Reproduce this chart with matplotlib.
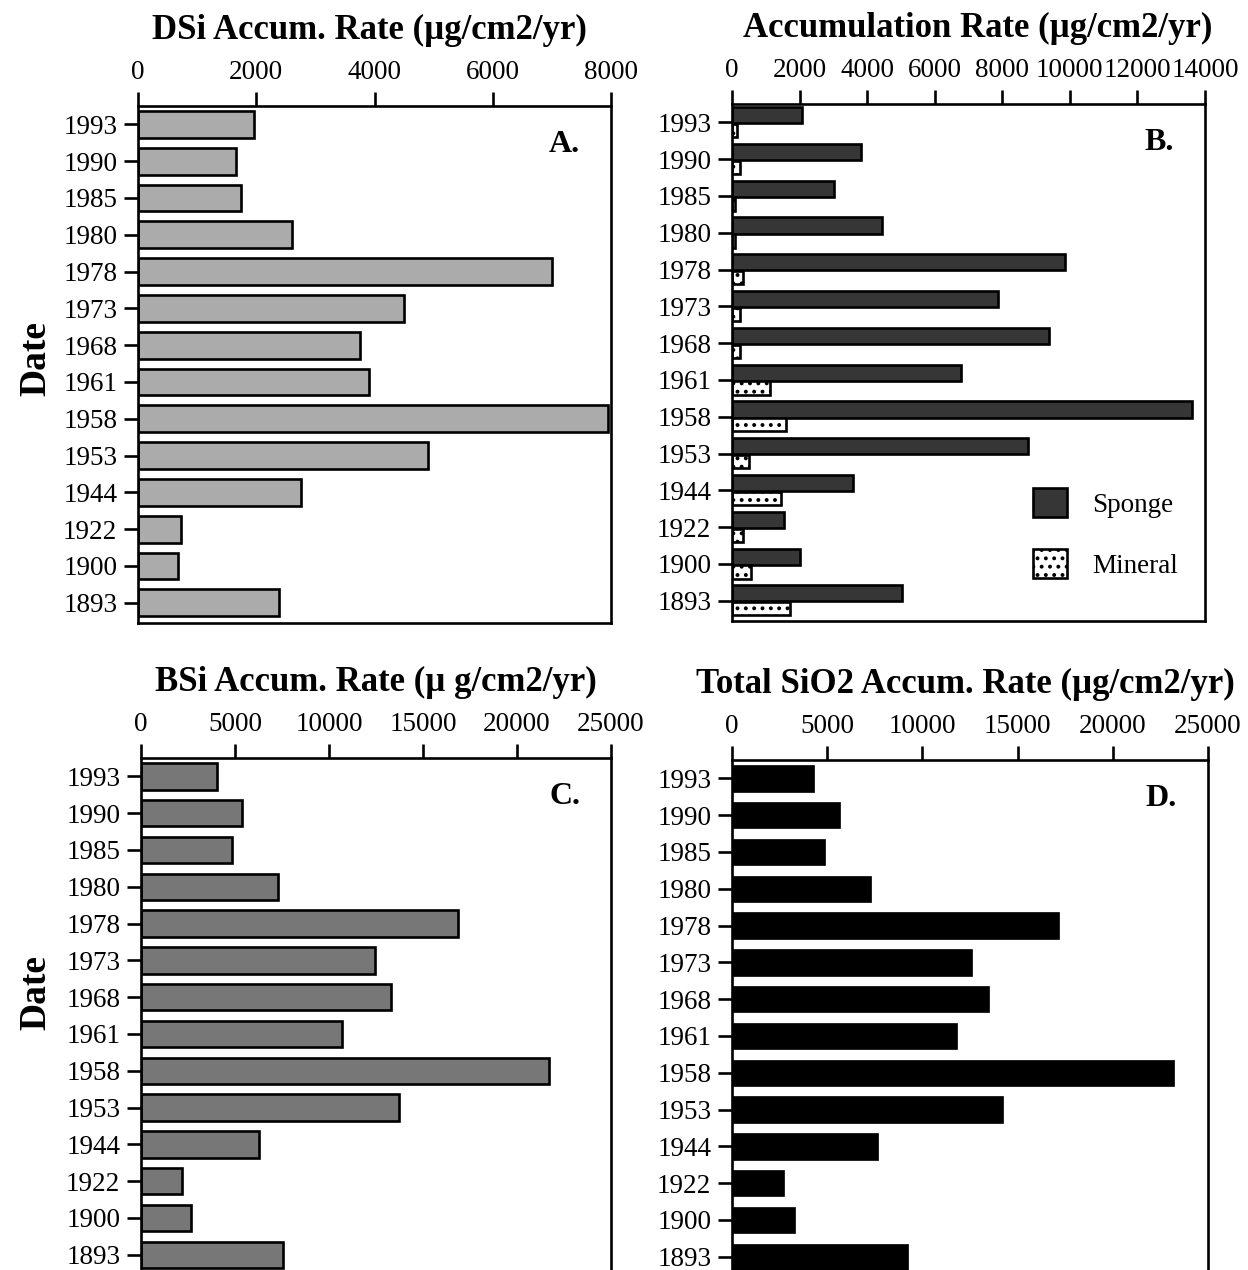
import matplotlib
matplotlib.use('Agg')
import matplotlib.pyplot as plt
import numpy as np
from matplotlib.patches import Patch

plt.rcParams['font.family'] = ['Liberation Serif', 'DejaVu Serif']
plt.rcParams['hatch.linewidth'] = 1.6

dates = ['1993', '1990', '1985', '1980', '1978', '1973', '1968',
         '1961', '1958', '1953', '1944', '1922', '1900', '1893']
dsi = [1970, 1650, 1740, 2610, 7000, 4500, 3760, 3900, 7950, 4900, 2750, 730, 680, 2390]
sponge = [2070, 3820, 3020, 4450, 9870, 7870, 9380, 6770, 13610, 8750, 3580, 1530, 2010, 5020]
mineral = [150, 240, 80, 80, 320, 240, 240, 1120, 1600, 490, 1440, 340, 570, 1730]
bsi = [4060, 5360, 4820, 7290, 16880, 12430, 13300, 10700, 21700, 13710, 6250, 2190, 2650, 7550]
total = [4300, 5680, 4870, 7290, 17200, 12630, 13510, 11800, 23200, 14220, 7680, 2750, 3300, 9230]

titles = ['DSi Accum. Rate (\u00b5g/cm2/yr)', 'Accumulation Rate (\u00b5g/cm2/yr)',
          'BSi Accum. Rate (\u00b5 g/cm2/yr)', 'Total SiO2 Accum. Rate (\u00b5g/cm2/yr)']
letters = ['A.', 'B.', 'C.', 'D.']
title_x = [0.49, 0.52, 0.5, 0.49]

W, H = 1248, 1270
fig = plt.figure(figsize=(W / 100, H / 100), dpi=100)


def add_ax(left, right, top, height=517):
    return fig.add_axes([left / W, (H - top - height) / H, (right - left) / W, height / H])


axA = add_ax(138, 611, 106)
axB = add_ax(732, 1205, 104)
axC = add_ax(141, 611, 758)
axD = add_ax(732, 1208, 760)

y = np.arange(len(dates))
EW = 1.9

axA.barh(y, dsi, height=0.73, color='#ababab', edgecolor='black', linewidth=EW)
axB.barh(y - 0.2, sponge, height=0.44, color='#363636', edgecolor='black', linewidth=EW)
axB.barh(y + 0.22, mineral, height=0.36, color='white', edgecolor='black', linewidth=EW, hatch='..')
axC.barh(y, bsi, height=0.72, color='#777777', edgecolor='black', linewidth=EW)
axD.barh(y, total, height=0.72, color='black', edgecolor='black', linewidth=0.5)

setups = [(axA, 8000, [0, 2000, 4000, 6000, 8000]),
          (axB, 14000, list(range(0, 14001, 2000))),
          (axC, 25000, list(range(0, 25001, 5000))),
          (axD, 25000, list(range(0, 25001, 5000)))]

for i, (ax, xmax, xt) in enumerate(setups):
    ax.set_xlim(0, xmax)
    ax.set_ylim(13.55, -0.5)
    ax.xaxis.tick_top()
    ax.set_xticks(xt)
    ax.set_xticklabels([str(v) for v in xt])
    ax.set_yticks(y)
    ax.set_yticklabels(dates)
    for s in ax.spines.values():
        s.set_linewidth(EW)
    ax.tick_params(axis='both', direction='out', length=10, width=EW, labelsize=19.5)
    ax.tick_params(axis='x', pad=5)
    ax.tick_params(axis='y', pad=5)
    ax.text(title_x[i], 1 + 76 / 517, titles[i], transform=ax.transAxes, ha='center', va='center',
            fontsize=25, fontweight='bold')
    ax.text(0.935, 0.925, letters[i], transform=ax.transAxes, ha='right', va='center',
            fontsize=23, fontweight='bold')

fig.text(36 / W, 1 - 358 / H, 'Date', rotation=90, ha='center', va='center',
         fontsize=27, fontweight='bold')
fig.text(36 / W, 1 - 992 / H, 'Date', rotation=90, ha='center', va='center',
         fontsize=27, fontweight='bold')

handles = [Patch(facecolor='#363636', edgecolor='black', linewidth=EW, label='Sponge'),
           Patch(facecolor='white', edgecolor='black', linewidth=EW, hatch='..', label='Mineral')]
axB.legend(handles=handles, loc='lower right', bbox_to_anchor=(0.995, 0.035), frameon=False,
           fontsize=19.5, handlelength=1.25, handleheight=1.3, handletextpad=0.95, labelspacing=1.15)

fig.savefig('out.png', dpi=100)
